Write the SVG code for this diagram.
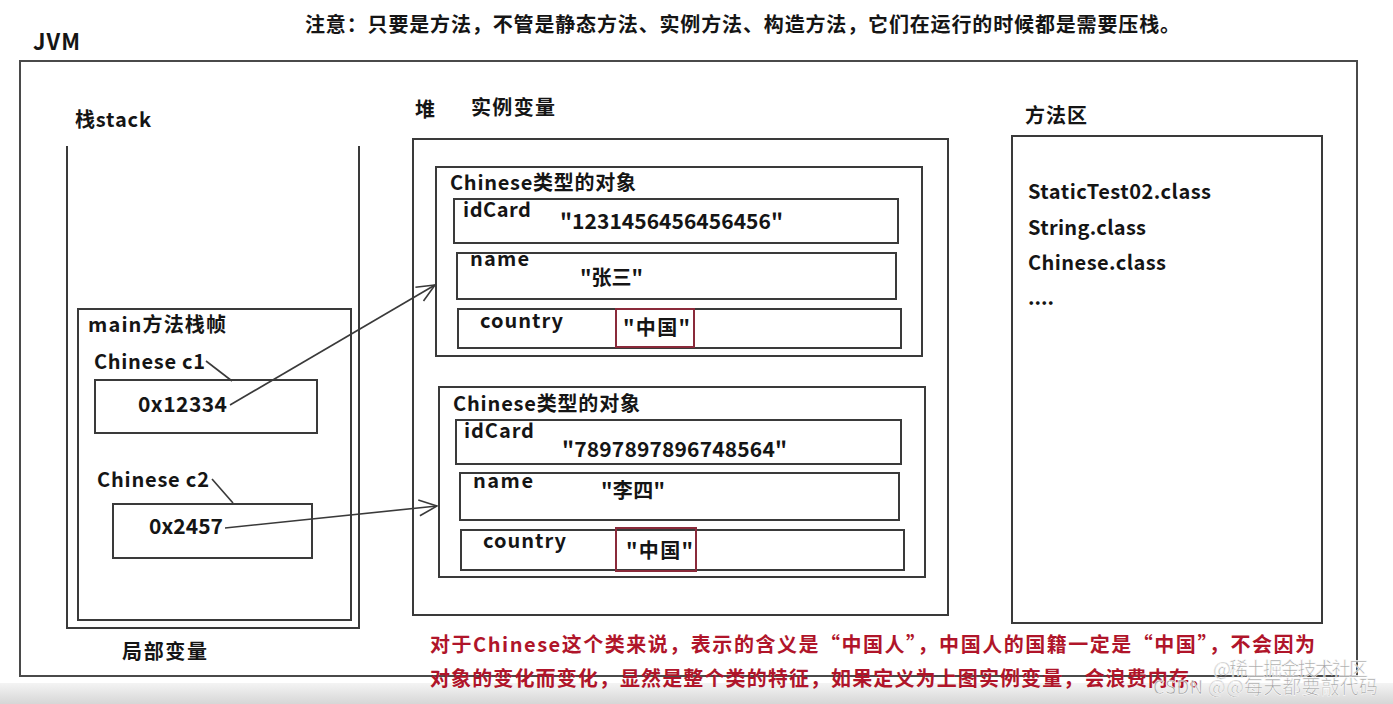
<svg xmlns="http://www.w3.org/2000/svg" width="1393" height="704" viewBox="0 0 1393 704">
<defs>
<style>
.t{font-family:"Noto Sans CJK SC","Noto Sans",sans-serif;font-weight:700;fill:#151515;}
.s{font-size:20px;}
.m{font-size:21px;}
.red{font-family:"Noto Sans CJK SC","Noto Sans",sans-serif;font-weight:700;fill:#b0152a;font-size:20px;}
.box{fill:none;stroke:#3a3a3a;stroke-width:2;}
.rbox{fill:none;stroke:#8a2a3a;stroke-width:2;}
.ln{fill:none;stroke:#3a3a3a;stroke-width:1.6;}
.wm{font-family:"Noto Sans CJK SC","Noto Sans",sans-serif;font-weight:400;font-size:19px;fill:#9a9a9a;stroke:#ffffff;stroke-width:0.6;opacity:0.9;}
</style>
<linearGradient id="band" x1="0" y1="0" x2="0" y2="1">
<stop offset="0" stop-color="#f4f4f4"/>
<stop offset="1" stop-color="#d6d6d6"/>
</linearGradient>
<marker id="arr" viewBox="0 0 20 20" refX="19" refY="10" markerWidth="20" markerHeight="20" markerUnits="userSpaceOnUse" orient="auto">
<path d="M1,2 L19,10 L1,18" fill="none" stroke="#3a3a3a" stroke-width="1.6"/>
</marker>
</defs>
<rect width="1393" height="704" fill="#ffffff"/>
<rect x="0" y="683" width="1393" height="21" fill="url(#band)"/>

<text class="t s" x="305" y="32" textLength="875">注意：只要是方法，不管是静态方法、实例方法、构造方法，它们在运行的时候都是需要压栈。</text>

<g id="jvm">
<rect x="20" y="61" width="1337" height="615" fill="none" stroke="#4a4a4a" stroke-width="2"/>
<text class="t" style="font-size:22px" x="33" y="50" textLength="47">JVM</text>
</g>

<g id="stack">
<text class="t s" x="75" y="127" textLength="76">栈stack</text>
<path class="box" d="M67,146 V628 H359 V146"/>
<text class="t s" x="122" y="659" textLength="85">局部变量</text>
</g>

<g id="main-frame">
<rect class="box" x="78" y="309" width="273" height="311"/>
<text class="t s" x="88" y="332" textLength="138">main方法栈帧</text>
</g>

<g id="c1">
<text class="t s" x="94" y="369" textLength="111">Chinese c1</text>
<rect class="box" x="95" y="380" width="222" height="53"/>
<text class="t m" x="138" y="412" textLength="89">0x12334</text>
</g>

<g id="c2">
<text class="t s" x="97" y="487" textLength="112">Chinese c2</text>
<rect class="box" x="113" y="504" width="199" height="54"/>
<text class="t m" x="149" y="534" textLength="74">0x2457</text>
</g>

<g id="heap">
<text class="t s" x="415" y="117">堆</text>
<text class="t s" x="471" y="115" textLength="84">实例变量</text>
<rect class="box" x="413" y="139" width="535" height="476"/>
</g>

<g id="obj1">
<rect class="box" x="436" y="167" width="486" height="189"/>
<text class="t s" x="450" y="190" textLength="186">Chinese类型的对象</text>
<rect class="box" x="454" y="199" width="444" height="44"/>
<text class="t s" x="463" y="217" textLength="68">idCard</text>
<text class="t m" x="560" y="229" textLength="223">"1231456456456456"</text>
<rect class="box" x="457" y="253" width="439" height="46"/>
<text class="t s" x="470" y="266" textLength="59">name</text>
<text class="t s" x="580" y="285" textLength="63">"张三"</text>
<rect class="box" x="458" y="309" width="443" height="39"/>
<text class="t s" x="480" y="328" textLength="83">country</text>
<rect class="rbox" x="616" y="309" width="78" height="38"/>
<text class="t s" x="623" y="335" textLength="67">"中国"</text>
</g>

<g id="obj2">
<rect class="box" x="439" y="387" width="486" height="190"/>
<text class="t s" x="453" y="411" textLength="187">Chinese类型的对象</text>
<rect class="box" x="456" y="420" width="445" height="44"/>
<text class="t s" x="464" y="438" textLength="70">idCard</text>
<text class="t m" x="562" y="457" textLength="225">"7897897896748564"</text>
<rect class="box" x="460" y="473" width="439" height="47"/>
<text class="t s" x="473" y="488" textLength="60">name</text>
<text class="t s" x="601" y="498" textLength="64">"李四"</text>
<rect class="box" x="461" y="530" width="443" height="40"/>
<text class="t s" x="483" y="548" textLength="83">country</text>
<rect class="rbox" x="616" y="528" width="80" height="43"/>
<text class="t s" x="626" y="558" textLength="67">"中国"</text>
</g>

<g id="method-area">
<text class="t s" x="1025" y="123" textLength="62">方法区</text>
<rect class="box" x="1012" y="136" width="310" height="487"/>
<text class="t s" x="1028" y="199" textLength="183">StaticTest02.class</text>
<text class="t s" x="1028" y="235" textLength="118">String.class</text>
<text class="t s" x="1028" y="270" textLength="138">Chinese.class</text>
<text class="t s" x="1028" y="305">....</text>
</g>

<g id="connectors">
<line class="ln" x1="206" y1="361" x2="232" y2="381"/>
<line class="ln" x1="212" y1="479" x2="233" y2="503"/>
<line class="ln" x1="230" y1="405" x2="435" y2="285" marker-end="url(#arr)"/>
<line class="ln" x1="225" y1="528" x2="437" y2="506" marker-end="url(#arr)"/>
</g>

<g id="note">
<text class="red" x="430" y="652" textLength="885">对于Chinese这个类来说，表示的含义是“中国人”，中国人的国籍一定是“中国”，不会因为</text>
<text class="red" x="430" y="686" textLength="780">对象的变化而变化，显然是整个类的特征，如果定义为上图实例变量，会浪费内存。</text>
</g>

<g id="watermark">
<text class="wm" x="1213" y="676" textLength="155">@稀土掘金技术社区</text>
<text class="wm" x="1153" y="694" textLength="225">CSDN @@每天都要敲代码</text>
</g>
</svg>
